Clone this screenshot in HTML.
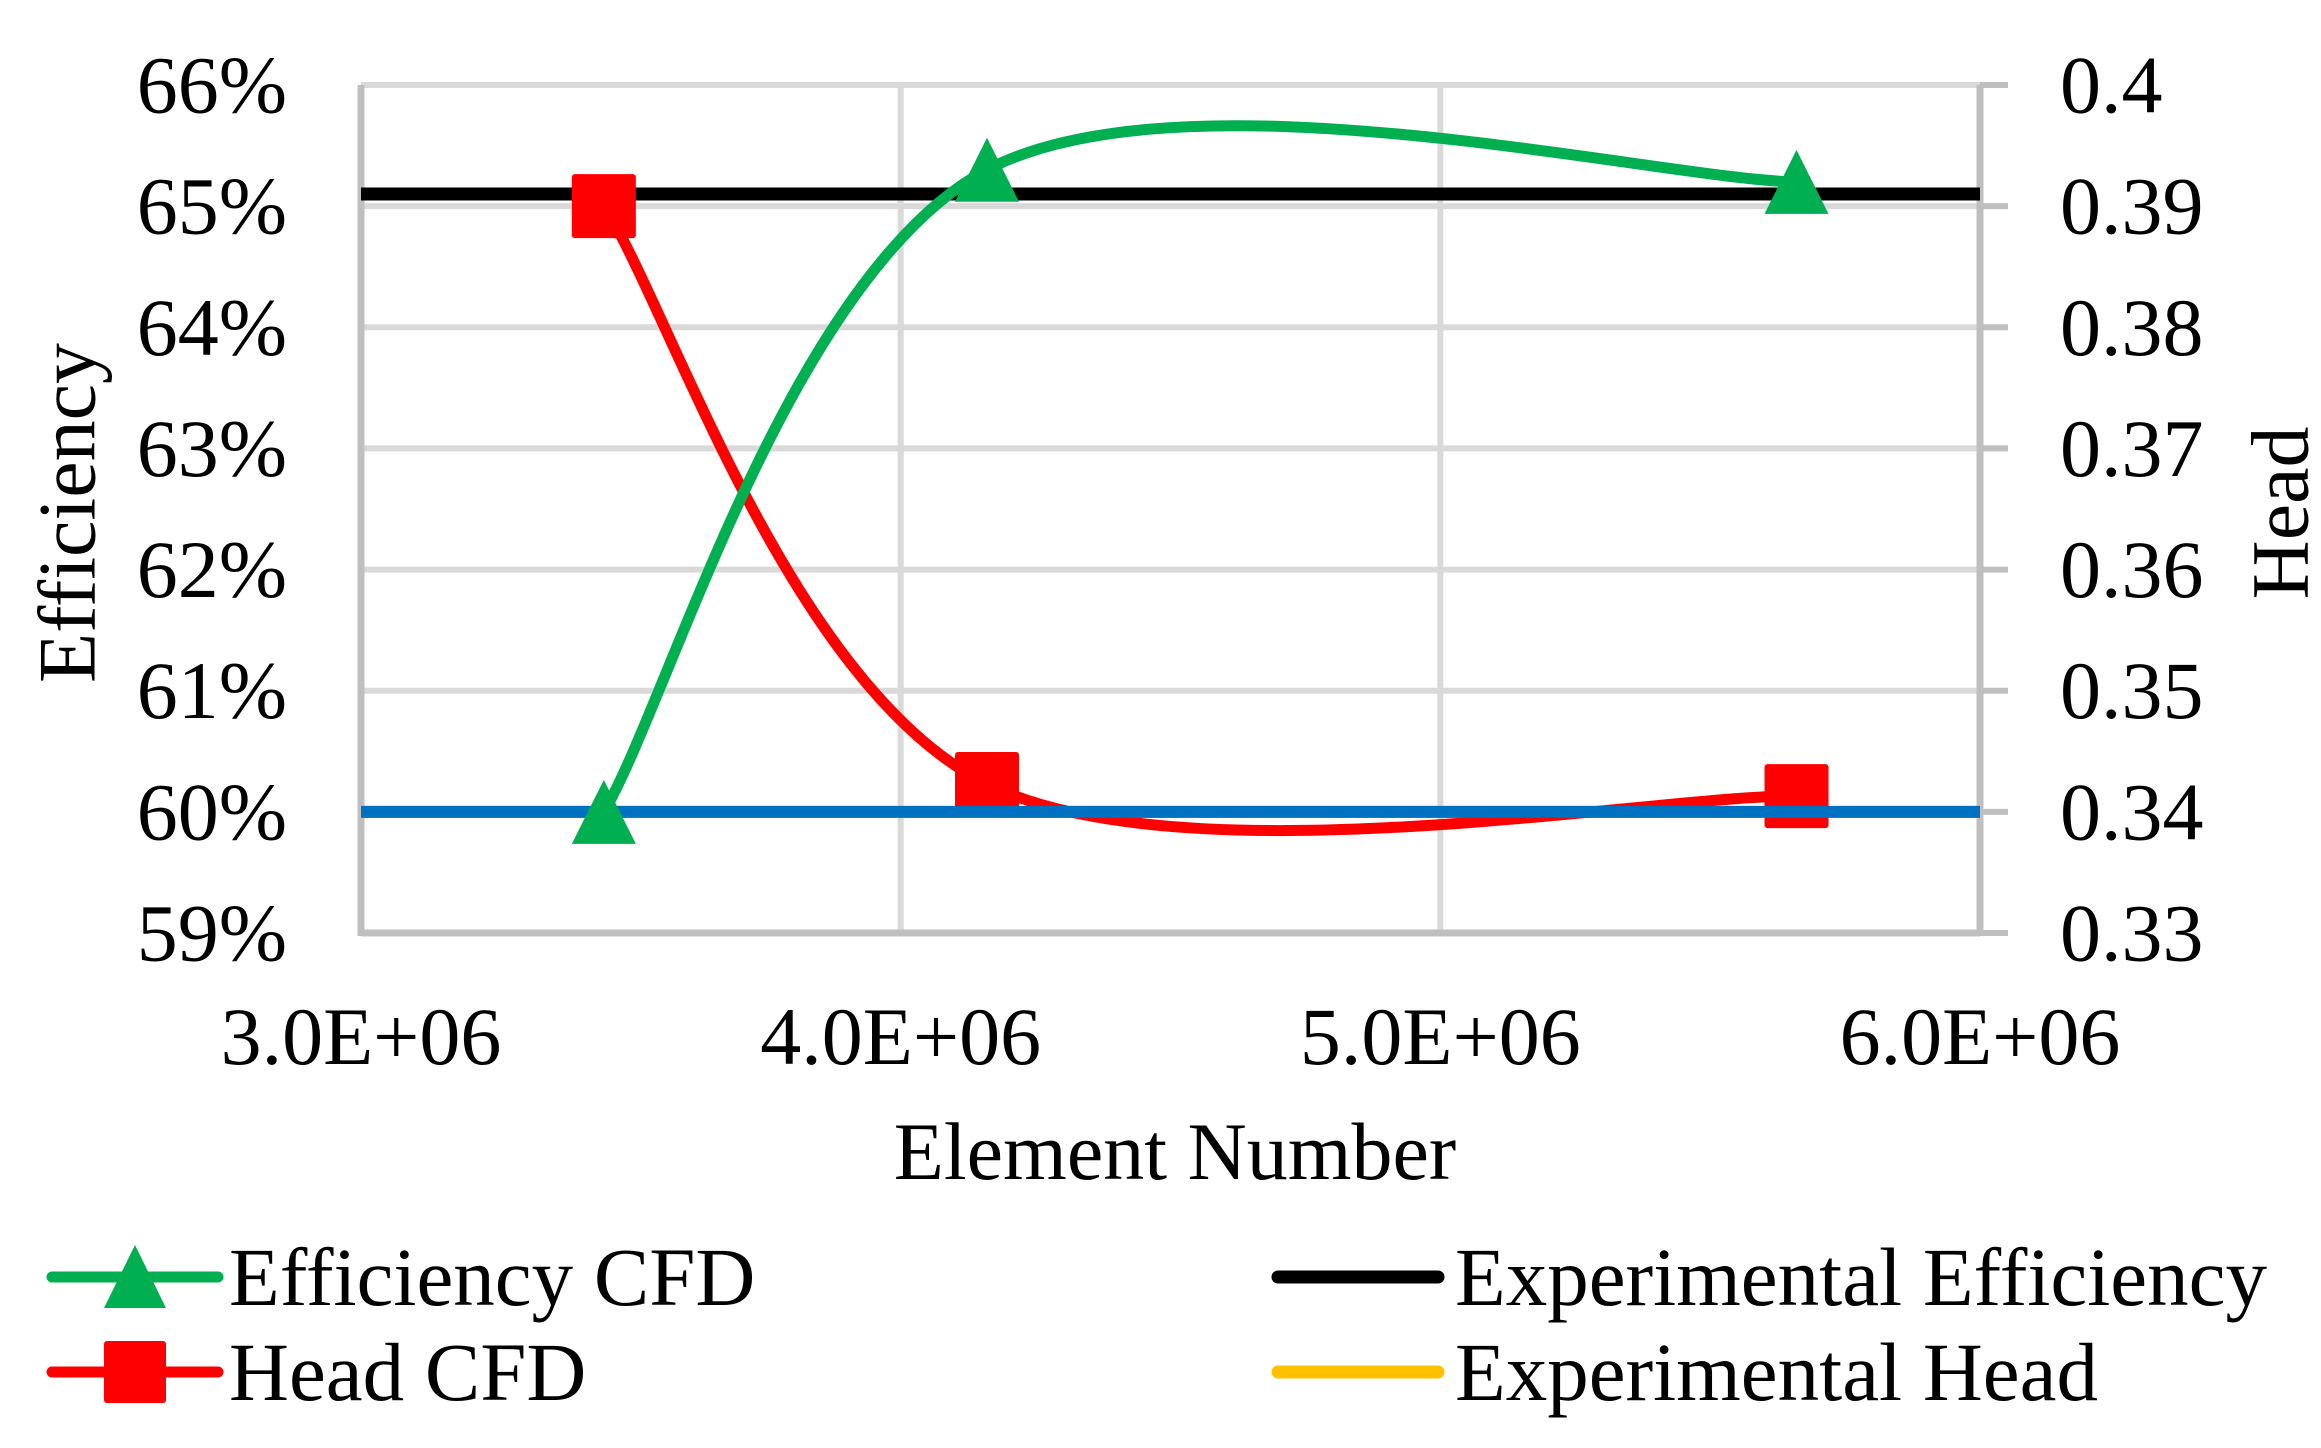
<!DOCTYPE html>
<html><head><meta charset="utf-8"><style>
html,body{margin:0;padding:0;background:#fff;}
svg{display:block;font-family:"Liberation Serif",serif;}
</style></head><body>
<svg id="chart" width="2321" height="1448" viewBox="0 0 2321 1448" xmlns="http://www.w3.org/2000/svg">
<g id="grid"></g>
<g id="axes"></g>
<g id="series"></g>
<g id="labels"></g>
<text x="67" y="513" font-size="82" text-anchor="middle" dominant-baseline="central" transform="rotate(-90 67 513)">Efficiency</text>
<text x="2280" y="513" font-size="82" text-anchor="middle" dominant-baseline="central" transform="rotate(-90 2280 513)">Head</text>
<text x="1175" y="1179" font-size="82" text-anchor="middle">Element Number</text>
<g>
 <g>
  <line x1="52" y1="1277" x2="218" y2="1277" stroke="#00b050" stroke-width="11" stroke-linecap="round"/>
  <polygon points="135,1245 104,1308 166,1308" fill="#00b050"/>
  <text x="229" y="1305" font-size="83">Efficiency CFD</text>
 </g>
 <g>
  <line x1="52" y1="1372" x2="218" y2="1372" stroke="#ff0000" stroke-width="11" stroke-linecap="round"/>
  <rect x="104" y="1341" width="62" height="62" rx="3" fill="#ff0000"/>
  <text x="229" y="1400" font-size="83">Head CFD</text>
 </g>
 <g>
  <line x1="1278" y1="1277" x2="1438" y2="1277" stroke="#000" stroke-width="13" stroke-linecap="round"/>
  <text x="1455" y="1305" font-size="83">Experimental Efficiency</text>
 </g>
 <g>
  <line x1="1278" y1="1372" x2="1438" y2="1372" stroke="#ffc000" stroke-width="13" stroke-linecap="round"/>
  <text x="1455" y="1400" font-size="83">Experimental Head</text>
 </g>
</g>
</svg>
<script>
const xTicks = [3.0e6, 4.0e6, 5.0e6, 6.0e6];
const xTickLabels = ["3.0E+06", "4.0E+06", "5.0E+06", "6.0E+06"];
const effTicks = [59, 60, 61, 62, 63, 64, 65, 66];
const headTicks = [0.33, 0.34, 0.35, 0.36, 0.37, 0.38, 0.39, 0.4];
const headTickLabels = ["0.33","0.34","0.35","0.36","0.37","0.38","0.39","0.4"];
const elements = [3.45e6, 4.16e6, 5.66e6];
const efficiencyCFD = [60.0, 65.3, 65.2];
const headCFD = [0.390, 0.3423, 0.3413];
const expEfficiency = 65.1;
const expHead = 0.34;

const NS = "http://www.w3.org/2000/svg";
const L = 361, R = 1980, T = 85, B = 933;
const xs = v => L + (v - 3e6) / 3e6 * (R - L);
const yE = v => B - (v - 59) / 7 * (B - T);
const yH = v => B - (v - 0.33) / 0.07 * (B - T);
function mk(tag, attrs, parent) {
  const e = document.createElementNS(NS, tag);
  for (const k in attrs) e.setAttribute(k, attrs[k]);
  parent.appendChild(e);
  return e;
}
const grid = document.getElementById('grid');
const axes = document.getElementById('axes');
const ser = document.getElementById('series');
const lab = document.getElementById('labels');

effTicks.forEach((t, i) => {
  const y = yE(t);
  if (i > 0) {
    const g = mk('line', {x1: L, x2: R, y1: y, y2: y, stroke: '#d9d9d9', 'stroke-width': 6}, grid);
    
    
  }
  const tk = mk('line', {x1: R, x2: 2008, y1: y, y2: y, stroke: '#bfbfbf', 'stroke-width': 6}, axes);
  
  
  const tl = mk('text', {x: 287, y: y, 'font-size': 82, 'text-anchor': 'end', 'dominant-baseline': 'central'}, lab);
  tl.textContent = t + '%';
  
  
});
headTicks.forEach((t, i) => {
  const tl = mk('text', {x: 2060, y: yH(t), 'font-size': 82, 'dominant-baseline': 'central'}, lab);
  tl.textContent = headTickLabels[i];
  
  
});
xTicks.forEach((t, i) => {
  const x = xs(t);
  if (i > 0 && i < xTicks.length - 1) {
    const g = mk('line', {x1: x, x2: x, y1: T, y2: B, stroke: '#d9d9d9', 'stroke-width': 6}, grid);
    
    
  }
  const tl = mk('text', {x: x, y: 1064, 'font-size': 82, 'text-anchor': 'middle'}, lab);
  tl.textContent = xTickLabels[i];
  
  
});
const ax1 = mk('line', {x1: L, x2: L, y1: T, y2: B + 3, stroke: '#bfbfbf', 'stroke-width': 7}, axes);


const ax2 = mk('line', {x1: R, x2: R, y1: T, y2: B + 3, stroke: '#bfbfbf', 'stroke-width': 7}, axes);


const ax3 = mk('line', {x1: L, x2: R, y1: B, y2: B, stroke: '#bfbfbf', 'stroke-width': 7}, axes);



function smooth(pts) {
  let d = 'M' + pts[0][0] + ',' + pts[0][1];
  for (let i = 0; i < pts.length - 1; i++) {
    const p0 = pts[Math.max(i - 1, 0)], p1 = pts[i], p2 = pts[i + 1], p3 = pts[Math.min(i + 2, pts.length - 1)];
    const c1 = [p1[0] + (p2[0] - p0[0]) / 6, p1[1] + (p2[1] - p0[1]) / 6];
    const c2 = [p2[0] - (p3[0] - p1[0]) / 6, p2[1] - (p3[1] - p1[1]) / 6];
    d += ' C' + c1 + ' ' + c2 + ' ' + p2;
  }
  return d;
}
const eh = mk('line', {x1: L, x2: R, y1: yH(expHead), y2: yH(expHead), stroke: '#ffc000', 'stroke-width': 12}, ser);


const ee = mk('line', {x1: L, x2: R, y1: yE(expEfficiency), y2: yE(expEfficiency), stroke: '#000', 'stroke-width': 13}, ser);



const effPts = elements.map((x, i) => [xs(x), yE(efficiencyCFD[i])]);
const headPts = elements.map((x, i) => [xs(x), yH(headCFD[i])]);
const hp = mk('path', {d: smooth(headPts), fill: 'none', stroke: '#ff0000', 'stroke-width': 11}, ser);


const ep = mk('path', {d: smooth(effPts), fill: 'none', stroke: '#00b050', 'stroke-width': 11}, ser);


headPts.forEach(p => {
  const r = mk('rect', {x: p[0] - 32, y: p[1] - 32, width: 64, height: 64, rx: 3, fill: '#ff0000'}, ser);
  
  
});
const bl = mk('line', {x1: L, x2: R, y1: yH(expHead), y2: yH(expHead), stroke: '#0070c0', 'stroke-width': 12}, ser);


effPts.forEach(p => {
  const t = mk('polygon', {points: [p[0], p[1] - 32, p[0] - 32, p[1] + 32, p[0] + 32, p[1] + 32].join(','), fill: '#00b050', 'stroke-linejoin': 'round'}, ser);
  
  
});
</script>
</body></html>
